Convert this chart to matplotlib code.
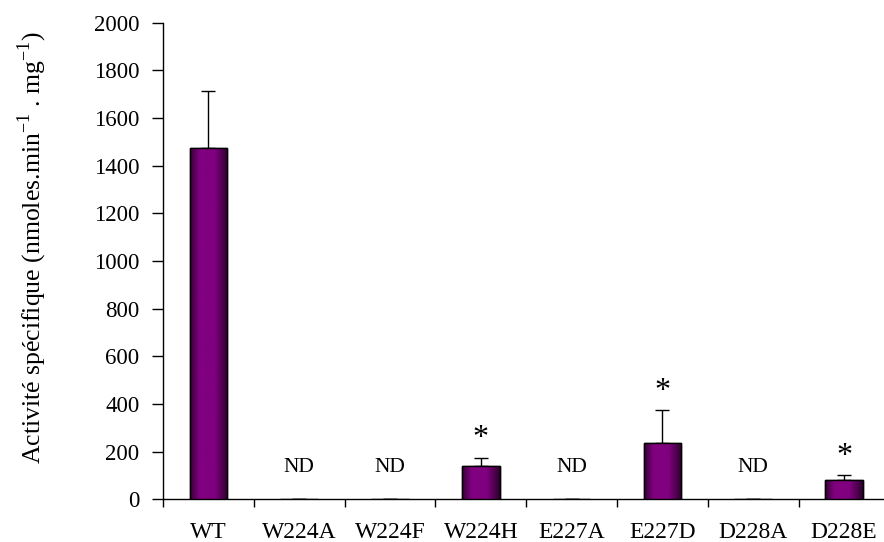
import numpy as np
import matplotlib
matplotlib.use("Agg")
import matplotlib.pyplot as plt
from matplotlib.colors import LinearSegmentedColormap

plt.rcParams['font.family'] = ['Liberation Serif', 'DejaVu Serif']
plt.rcParams['mathtext.fontset'] = 'custom'
plt.rcParams['mathtext.rm'] = 'Liberation Serif'

categories = ["WT", "W224A", "W224F", "W224H", "E227A", "E227D", "D228A", "D228E"]
values = [1475, 0, 0, 140, 0, 235, 0, 80]
errors = [240, 0, 0, 35, 0, 140, 0, 20]
not_detected = [False, True, True, False, True, False, True, False]
significant = [False, False, False, True, False, True, False, True]
yticks = [0, 200, 400, 600, 800, 1000, 1200, 1400, 1600, 1800, 2000]

fig = plt.figure(figsize=(8.84, 5.42), dpi=100)
W, H = 884, 542
x0, x1 = 163, 163 + 8 * 90.8
y0, y1 = 499.3, 22.7
ax = fig.add_axes([x0 / W, 1 - y0 / H, (x1 - x0) / W, (y0 - y1) / H])

x = np.arange(len(categories))
bars = ax.bar(x, values, width=0.415, color="#800080", edgecolor="black", linewidth=1.0, zorder=3)

# horizontal shading gradient for the bars
prof_x = [0.0, 0.04, 0.25, 0.65, 0.92, 1.0]
prof_v = [0.15, 0.35, 1.0, 1.0, 0.35, 0.15]
t = np.linspace(0, 1, 200)
prof = np.interp(t, prof_x, prof_v)
cmap = LinearSegmentedColormap.from_list("pur", ["#1e001c", "#800080"])
for b in bars:
    h = b.get_height()
    if h <= 0:
        continue
    bx, bw = b.get_x(), b.get_width()
    im = ax.imshow(prof[np.newaxis, :], cmap=cmap, vmin=0, vmax=1, aspect="auto",
                   extent=[bx, bx + bw, 0, h], zorder=3.5, interpolation="bilinear")
    im.set_clip_path(b)
    ax.bar(bx + bw / 2, h, width=bw, facecolor="none", edgecolor="black", linewidth=1.0, zorder=4)

ax.errorbar(x, values, yerr=[np.zeros(len(errors)), errors], fmt="none", ecolor="black",
            elinewidth=1.0, capsize=5, capthick=1.0, zorder=2)

for i, (nd, sig) in enumerate(zip(not_detected, significant)):
    if nd:
        ax.annotate("ND", xy=(i, 0), xytext=(0, 23), textcoords="offset points",
                    ha="center", va="center", fontsize=15.5)
    if sig:
        ax.annotate("*", xy=(i, values[i] + errors[i]), xytext=(0, 8), textcoords="offset points",
                    ha="center", va="baseline", fontsize=23)

ax.set_xlim(-0.5, len(categories) - 0.5)
ax.set_ylim(0, 2000)
ax.set_yticks(yticks)
ax.set_yticklabels([str(v) for v in yticks], fontsize=16.5)
ax.set_xticks(x)
ax.set_xticklabels(categories, fontsize=17)
ax.set_xticks(np.arange(-0.5, len(categories), 1.0), minor=True)
ax.tick_params(axis="x", which="major", length=0, pad=16)
ax.tick_params(axis="x", which="minor", length=6, width=1.0, direction="out")
ax.tick_params(axis="y", which="major", length=8, width=1.0, direction="out", pad=9)
for s in ["top", "right"]:
    ax.spines[s].set_visible(False)
for s in ["left", "bottom"]:
    ax.spines[s].set_linewidth(1.0)

fig.text(32 / W, 1 - 247 / H,
         r"Activité spécifique (nmoles.min$^{\mathregular{-1}}$ . mg$^{\mathregular{-1}}$)",
         rotation=90, ha="center", va="center", fontsize=18.5)

fig.savefig("out.png", dpi=100)
